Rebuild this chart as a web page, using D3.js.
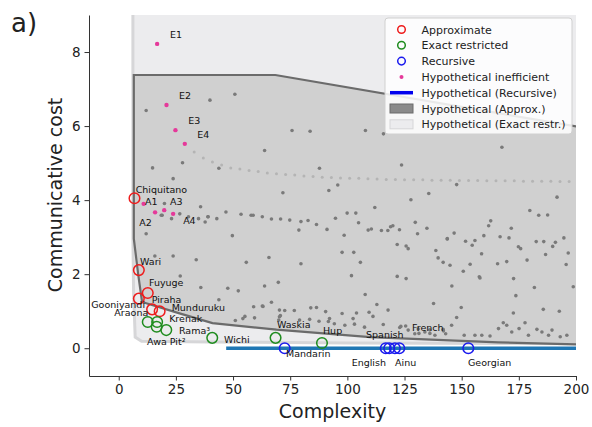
<!DOCTYPE html>
<html lang="en">
<head>
<meta charset="utf-8">
<script src="https://d3js.org/d3.v7.min.js"></script>
<style>
  body { margin: 0; background: #fff; }
  text { font-family: "DejaVu Sans", sans-serif; }
</style>
</head>
<body>
<script>
// complexity vs communicative cost, languages + hypothetical systems

// languages
const approxNames = ["Chiquitano", "Wari", "Fuyuge", "Gooniyandi", "Piraha", "Munduruku"];
const approxX = [6.9, 8.8, 12.7, 8.8, 14.6, 17.9];
const approxY = [4.05, 2.11, 1.49, 1.34, 1.05, 1.0];

const exactNames = ["Araona", "Krenak", "Rama\u00b3", "Awa Pit\u00b2", "Wichi", "Waskia", "Hup"];
const exactX = [12.7, 16.8, 20.8, 16.6, 40.9, 68.6, 88.9];
const exactY = [0.71, 0.71, 0.49, 0.58, 0.28, 0.28, 0.14];

const recNames = ["Mandarin", "English", "Spanish", "French", "Ainu", "Georgian"];
const recX = [72.6, 116.8, 118.3, 120.8, 122.7, 152.9];
const recY = [0, 0, 0, 0, 0, 0];

// hypothetical inefficient systems
const ineffNames = ["E1", "E2", "E3", "E4", "A1", "A2", "A3", "A4"];
const ineffX = [16.8, 20.9, 24.8, 28.9, 10.9, 15.9, 19.9, 23.8];
const ineffY = [8.22, 6.57, 5.89, 5.52, 3.9, 3.67, 3.73, 3.63];

// hypothetical recursive line
const recLineX = [47, 200];
const recLineY = [0, 0];

// region boundaries (approx / exact restricted)
const approxHull = [[6.6, 7.38], [68.5, 7.38], [202, 5.97], [202, 0.1], [166, 0.16], [110, 0.3],
  [69, 0.5], [41, 0.68], [26.6, 0.94], [10.2, 1.25], [8.5, 2.0], [6.6, 2.96]];
const exactHull = [[6.2, 9.5], [205, 9.5], [205, 0.12], [100, 0.14], [40, 0.17], [10, 0.19],
  [7.2, 0.3], [6.5, 1.5], [6.2, 3.0]];

// hypothetical approximate systems (grey dots)
const hypoPts = [
  [12.0,6.42],[39.9,6.70],[50.8,6.86],[75.8,5.88],[83.7,5.86],[107.9,5.88],[63.8,5.34],[14.8,4.87],
  [27.9,5.01],[43.8,4.86],[87.8,4.86],[23.8,4.58],[95.8,4.41],[91.9,4.26],[71.8,4.20],[35.8,3.82],
  [115.8,5.79],[167.6,5.43],[123.7,4.95],[135.6,4.18],[147.8,4.42],[127.8,4.01],[112,3.80],[191.7,4.08],
  [179.8,3.72],[183.7,3.59],[187.6,3.60],[129.7,3.40],[162.7,3.44],[161.8,3.31],[134.8,3.24],[171.7,3.24],
  [114.9,3.18],[117.7,3.18],[118.9,3.28],[119.9,3.31],[122.8,3.20],[130.7,3.09],[146.7,3.11],[143.7,2.96],
  [159.7,3.04],[166.8,3.01],[170.7,2.98],[194.7,2.98],
  [12.0,3.09],[23.8,2.49],[33.9,2.39],[46.9,3.68],[39.0,3.55],[42.9,3.50],[53.5,3.62],[57.9,3.59],
  [58.8,3.59],[62.8,3.55],[66.8,3.49],[70.8,3.49],[74.8,3.46],[79.7,3.42],[82.8,3.45],[86.5,3.34],
  [94.8,3.51],[99.9,3.65],[103.7,3.65],[104.9,3.39],[109.1,3.19],[110.5,3.22],[78.8,3.19],[91.1,3.21],
  [98.6,3.05],[49.7,3.04],[65.7,2.45],[55.8,2.32],[79.7,2.28],[97.7,2.59],[102.8,2.59],[105.7,2.32],
  [101.8,1.96],[107.8,1.45],[26.9,1.95],[35.9,1.64],[47.7,1.62],[52.3,1.55],[63.8,1.68],[69.8,1.78],
  [43.8,1.31],[59.0,1.12],[62.8,1.14],[66.8,1.24],[72.6,1.02],[76.8,1.02],[84.0,1.09],[86.5,1.10],
  [90.5,0.99],[97.7,0.94],[104.0,0.95],[109.5,0.97],[51.0,0.75],[55.2,0.86],[59.4,0.82],[70.7,0.88],
  [70.0,0.76],[87.6,0.73],[91.7,0.72],[94.3,0.66],[98.9,0.62],[103.1,0.65],[107.5,0.57],
  [121.8,2.80],[125.7,2.76],[126.6,2.69],[143.7,2.95],[151.7,2.89],[155.8,2.91],[154.6,2.78],[158.7,2.55],
  [138.7,2.64],[139.7,2.44],[141.9,2.32],[144.9,2.24],[150.7,2.08],[153.7,2.27],[174.8,2.74],[175.8,2.69],
  [182.6,2.88],[185.9,2.88],[191.0,2.86],[189.8,2.75],[186.7,2.53],[196.6,2.57],[195.7,2.26],[178.6,2.38],
  [169.7,2.34],[165.7,2.28],
  [121.8,1.94],[125.7,1.88],[145.7,1.68],[157.7,1.93],[158,1.90],[172.7,1.88],[181.8,1.64],[198.8,1.66],
  [173.7,1.42],[172.6,0.95],[137.7,1.21],[149.8,1.10],[112.9,1.18],[117.8,1.03],[185.7,1.05],[192.7,1.0],
  [147.8,0.83],[145.6,0.62],
  [115.7,0.64],[123.4,0.59],[126.6,0.49],[129.5,0.39],[131.3,0.40],[133.9,0.44],[136.1,0.40],[138.3,0.35],
  [141.9,0.51],[143.0,0.39],[151.1,0.35],[155.8,0.35],[158.8,0.35],[162.4,0.33],[166.1,0.53],[168.2,0.69],
  [169.7,0.62],[171.9,0.44],[175.1,0.53],[177.7,0.69],[179.2,0.35],[182.9,0.51],[185.1,0.44],[188.0,0.35],
  [189.5,0.49],[193.1,0.31],[196.0,0.35],
  [20,3.91],[19,3.59],[23.1,3.50],[26.7,3.63],[30.5,3.55],[34.9,3.5],[39.1,3.55],[37.8,3.41],[15.8,2.49],
  [18.6,3.59],[63.1,1.13],[70.3,1.03],[54.3,0.8],[70.3,0.85],[79.1,0.76],[83.5,0.78],[92.2,0.80],
  [102.5,0.8],[111.2,0.86],[122.9,0.56],[125.5,0.6],[131,0.52],[136,0.5],[142,0.47]
];

// the faint dotted curve of hypothetical systems
const curveX = [33,37,41,45,49,53,57,61,65,69,73,77,81,85,89,93,97,101,105,109,113,
  117,121,125,129,133,137,141,145,149,153,157,161,165,169,173,177,181,185,189,193,197];
const curveY = [5.30,5.14,5.03,4.95,4.87,4.84,4.80,4.77,4.73,4.71,4.69,4.68,4.65,4.64,4.62,4.61,4.60,4.59,4.59,4.58,4.57,
  4.56,4.56,4.55,4.55,4.55,4.54,4.54,4.54,4.53,4.53,4.53,4.52,4.52,4.52,4.52,4.51,4.51,4.51,4.51,4.50,4.50];

const xTicks = [0, 25, 50, 75, 100, 125, 150, 175, 200];
const yTicks = [0, 2, 4, 6, 8];

// label offsets in px from the point
const labelPos = {
  "Chiquitano": [1.2, -5.7], "Wari": [1.2, -5.1], "Fuyuge": [1.2, -7], "Gooniyandi": [6.2, 9.7, "end"],
  "Piraha": [-0.4, -6.7], "Munduruku": [12, 0],
  "Araona": [0.5, -5.9, "end"], "Krenak": [12, 0.4], "Rama\u00b3": [12.7, 4.2], "Awa Pit\u00b2": [-9.6, 18.2],
  "Wichi": [11.8, 5.4], "Waskia": [1.4, -9.6], "Hup": [1, -9.1],
  "Mandarin": [1.3, 8.4], "English": [0.2, 17.4, "end"], "Spanish": [-23.2, -10.6], "French": [17, -17.2],
  "Ainu": [-4.2, 17.4], "Georgian": [-0.3, 17.8],
  "E1": [12.9, -5.5], "E2": [12.5, -5.7], "E3": [12.8, -6.1], "E4": [12.4, -5.5],
  "A1": [1.3, 1.2], "A2": [-15.8, 13.7], "A3": [5.8, -5.1], "A4": [10, 10.2]
};

const W = 592, H = 427;
const padL = 89, padR = 576, padT = 15, padB = 376;

const svg = d3.select("body").append("svg")
  .attr("width", W).attr("height", H);

const x = d3.scaleLinear().domain([-13, 200]).range([padL, padR]);
const y = d3.scaleLinear().domain([-0.75, 9]).range([padB, padT]);

svg.append("clipPath").attr("id", "plotclip")
  .append("rect").attr("x", padL).attr("y", padT)
  .attr("width", padR - padL).attr("height", padB - padT);

const plot = svg.append("g").attr("clip-path", "url(#plotclip)");
const hullLine = d3.line().x(d => x(d[0])).y(d => y(d[1]));

// exact restricted region
plot.append("path")
  .attr("d", hullLine(exactHull) + "Z")
  .attr("fill", "#ececee")
  .attr("stroke", "#d6d6d8")
  .attr("stroke-width", 3);

// approx region
plot.append("path")
  .attr("d", hullLine(approxHull) + "Z")
  .attr("fill", "#d0d0d0")
  .attr("stroke", "#6b6b6b")
  .attr("stroke-width", 2.2);

// grey hypothetical dots
plot.append("g").selectAll("circle")
  .data(hypoPts).enter().append("circle")
  .attr("cx", d => x(d[0])).attr("cy", d => y(d[1]))
  .attr("r", 1.8).attr("fill", "#7a7a7a");

plot.append("g").selectAll("circle")
  .data(curveX).enter().append("circle")
  .attr("cx", d => x(d)).attr("cy", (d, i) => y(curveY[i]))
  .attr("r", 1.5).attr("fill", "#b4b4b4");

// recursive line
plot.append("line")
  .attr("x1", x(recLineX[0])).attr("x2", x(recLineX[1]))
  .attr("y1", y(recLineY[0])).attr("y2", y(recLineY[1]))
  .attr("stroke", "#1f77b4").attr("stroke-width", 3.5);

// inefficient
svg.append("g").selectAll("circle")
  .data(ineffX).enter().append("circle")
  .attr("cx", d => x(d)).attr("cy", (d, i) => y(ineffY[i]))
  .attr("r", 2.2).attr("fill", "#e5399a");

function drawLangs(xs, ys, color) {
  svg.append("g").selectAll("circle")
    .data(xs).enter().append("circle")
    .attr("cx", d => x(d)).attr("cy", (d, i) => y(ys[i]))
    .attr("r", 5.3).attr("fill", "none")
    .attr("stroke", color).attr("stroke-width", 1.5);
}
drawLangs(approxX, approxY, "#ee1c1c");
drawLangs(exactX, exactY, "#1f8c1f");
drawLangs(recX, recY, "#1a1aee");

function drawLabels(names, xs, ys) {
  svg.append("g").selectAll("text")
    .data(names).enter().append("text")
    .attr("x", (d, i) => x(xs[i]) + labelPos[d][0])
    .attr("y", (d, i) => y(ys[i]) + labelPos[d][1])
    .attr("text-anchor", d => labelPos[d][2] || "start")
    .attr("font-size", 9.5).attr("fill", "#111")
    .text(d => d);
}
drawLabels(approxNames, approxX, approxY);
drawLabels(exactNames, exactX, exactY);
drawLabels(recNames, recX, recY);
drawLabels(ineffNames, ineffX, ineffY);

// axes
const xAxis = svg.append("g")
  .attr("transform", "translate(0," + padB + ")")
  .call(d3.axisBottom(x).tickValues(xTicks).tickSize(4.5).tickSizeOuter(0).tickPadding(4));
const yAxis = svg.append("g")
  .attr("transform", "translate(" + padL + ",0)")
  .call(d3.axisLeft(y).tickValues(yTicks).tickSize(4.5).tickSizeOuter(0).tickPadding(4));
[xAxis, yAxis].forEach(a => {
  a.selectAll("text").attr("font-size", 13.5).attr("font-family", "DejaVu Sans").attr("fill", "#222");
  a.selectAll("path, line").attr("stroke", "#333");
});

svg.append("text")
  .attr("x", (padL + padR) / 2).attr("y", 418)
  .attr("text-anchor", "middle").attr("font-size", 19).attr("fill", "#222")
  .text("Complexity");
svg.append("text")
  .attr("transform", "translate(62," + 195 + ") rotate(-90)")
  .attr("text-anchor", "middle").attr("font-size", 19).attr("fill", "#222")
  .text("Communicative cost");

svg.append("text")
  .attr("x", 11).attr("y", 32)
  .attr("font-size", 26).attr("fill", "#222")
  .text("a)");

// legend
const lg = svg.append("g");
lg.append("rect")
  .attr("x", 385).attr("y", 18).attr("width", 187).attr("height", 116)
  .attr("rx", 3).attr("fill", "#fff").attr("fill-opacity", 0.85)
  .attr("stroke", "#d0d0d0");
const legItems = ["Approximate", "Exact restricted", "Recursive", "Hypothetical inefficient",
  "Hypothetical (Recursive)", "Hypothetical (Approx.)", "Hypothetical (Exact restr.)"];
const rowY = i => 29.5 + i * 15.8;
lg.selectAll("text.leg").data(legItems).enter().append("text")
  .attr("class", "leg")
  .attr("x", 421.5).attr("y", (d, i) => rowY(i) + 4)
  .attr("font-size", 11).attr("fill", "#222")
  .text(d => d);
["#ee1c1c", "#1f8c1f", "#1a1aee"].forEach((c, i) => {
  lg.append("circle").attr("cx", 401.5).attr("cy", rowY(i)).attr("r", 3.8)
    .attr("fill", "none").attr("stroke", c).attr("stroke-width", 1.5);
});
lg.append("circle").attr("cx", 401.5).attr("cy", rowY(3)).attr("r", 2)
  .attr("fill", "#e5399a");
lg.append("line").attr("x1", 390).attr("x2", 413)
  .attr("y1", rowY(4)).attr("y2", rowY(4))
  .attr("stroke", "#0000ee").attr("stroke-width", 3.5);
lg.append("rect").attr("x", 390).attr("y", rowY(5) - 4.5).attr("width", 23).attr("height", 9)
  .attr("fill", "#8a8a8a").attr("stroke", "#6b6b6b");
lg.append("rect").attr("x", 390).attr("y", rowY(6) - 4.5).attr("width", 23).attr("height", 9)
  .attr("fill", "#ececee").attr("stroke", "#d6d6d8");
</script>
</body>
</html>
